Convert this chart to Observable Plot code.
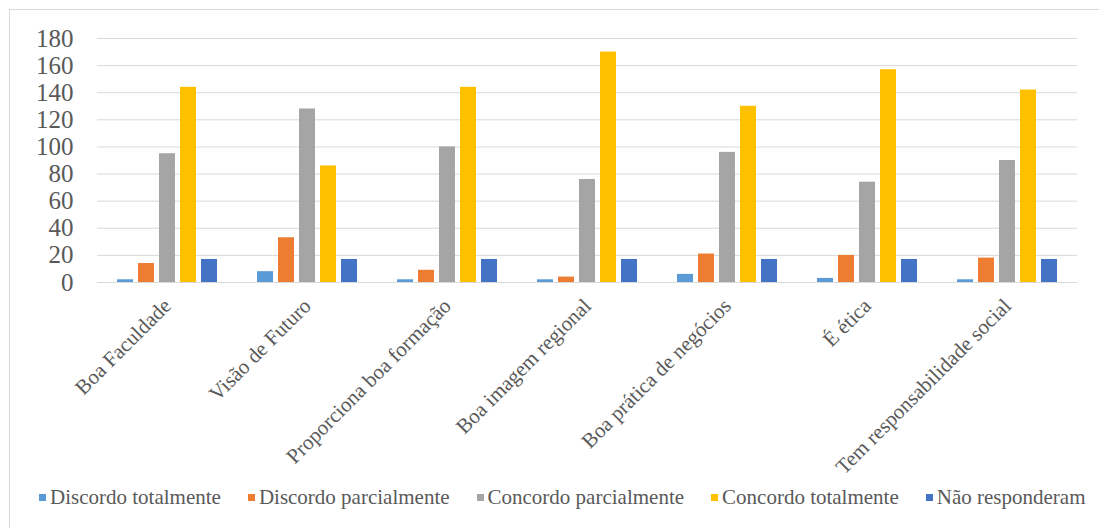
<!DOCTYPE html>
<html><head><meta charset="utf-8">
<script src="https://cdn.jsdelivr.net/npm/d3@7"></script>
<script src="https://cdn.jsdelivr.net/npm/@observablehq/plot@0.6"></script>
<style>
body{margin:0;background:#fff;font-family:"Liberation Serif","Times New Roman","DejaVu Serif",serif;}
#wrap{position:relative;width:1099px;height:528px;overflow:hidden;background:#fff;}
#frame{position:absolute;left:9px;top:9px;width:1100px;height:540px;border:1px solid #d9d9d9;box-sizing:border-box;}
#chart{position:absolute;left:0;top:0;}
#legend{position:absolute;left:39px;top:483px;display:flex;gap:27px;font-size:21px;line-height:28px;color:#595959;white-space:nowrap;font-family:"Liberation Serif","Times New Roman","DejaVu Serif",serif;}
#legend .item{display:flex;align-items:center;}
#legend .sw{width:7px;height:7px;margin-right:4px;display:inline-block;}
svg text{font-family:"Liberation Serif","Times New Roman","DejaVu Serif",serif;}
</style>
</head><body>
<div id="wrap"><div id="frame"></div><div id="chart"></div><div id="legend"></div></div>
<script>
const categories = ["Boa Faculdade","Visão de Futuro","Proporciona boa formação","Boa imagem regional","Boa prática de negócios","É ética","Tem responsabilidade social"];
const series = ["Discordo totalmente","Discordo parcialmente","Concordo parcialmente","Concordo totalmente","Não responderam"];
const discordoTotalmente   = [2, 8, 2, 2, 6, 3, 2];
const discordoParcialmente = [14, 33, 9, 4, 21, 20, 18];
const concordoParcialmente = [95, 128, 100, 76, 96, 74, 90];
const concordoTotalmente   = [144, 86, 144, 170, 130, 157, 142];
const naoResponderam       = [17, 17, 17, 17, 17, 17, 17];
const colors = ["#5B9BD5","#ED7D31","#A5A5A5","#FFC000","#4472C4"];
const yTicks = [0,20,40,60,80,100,120,140,160,180];

const seriesValues = [discordoTotalmente, discordoParcialmente, concordoParcialmente, concordoTotalmente, naoResponderam];
const data = [];
categories.forEach((c, i) => series.forEach((s, j) => data.push({cat: c, series: s, value: seriesValues[j][i]})));

const chart = Plot.plot({
  width: 1099, height: 480,
  marginTop: 38, marginBottom: 198, marginLeft: 95, marginRight: 21,
  style: {fontFamily: "'Liberation Serif', 'Times New Roman', 'DejaVu Serif', serif", color: "#595959", background: "transparent"},
  fx: {domain: categories, padding: 0, label: null},
  x: {domain: series, paddingInner: 0.23, paddingOuter: 0.865, axis: null},
  y: {domain: [0, 180], label: null},
  color: {domain: series, range: colors},
  marks: [
    Plot.ruleY(yTicks, {stroke: "#d9d9d9", strokeWidth: 1, strokeOpacity: 1}),
    Plot.barY(data, {fx: "cat", x: "series", y: "value", fill: "series"}),
    Plot.axisY(yTicks, {tickSize: 0, tickPadding: 24, fontSize: 25, label: null}),
    Plot.axisFx({anchor: "bottom", tickRotate: -45, tickSize: 0, tickPadding: 20, fontSize: 21, label: null})
  ]
});
document.getElementById("chart").appendChild(chart);

const legend = document.getElementById("legend");
series.forEach((s, j) => {
  const it = document.createElement("div"); it.className = "item";
  const sw = document.createElement("span"); sw.className = "sw"; sw.style.background = colors[j];
  it.appendChild(sw); it.appendChild(document.createTextNode(s));
  legend.appendChild(it);
});
</script>
</body></html>
